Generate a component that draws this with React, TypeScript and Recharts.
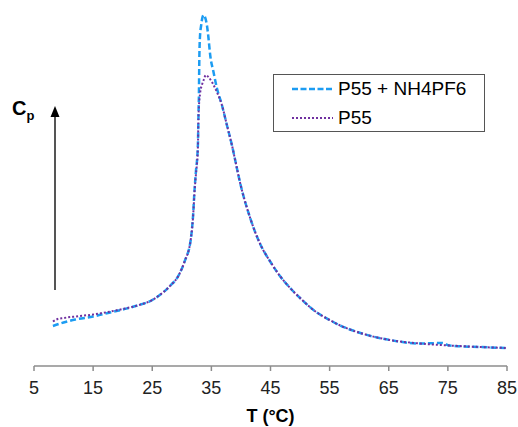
import { Line, LineChart, XAxis, YAxis } from 'recharts'

// P55 + NH4PF6 (blue dashed)
const saltTemps = [
  8.2, 10, 12, 15, 17.5, 20, 22.5, 25, 26.5, 28, 29.5, 30.5, 31.5, 31.9, 32.15, 32.38, 32.72, 32.82, 32.9, 32.95,
  33.06, 33.28, 33.67, 34.24, 34.51, 34.8, 35.36, 35.93, 36.78, 37.62, 38.47, 39.31, 39.75, 41.56, 43.25,
  45, 46.6, 48.8, 50, 52.5, 55, 56.8, 60.2, 65.2, 70.3, 74, 75.3, 80.4, 85,
]
const saltCp = [
  4.0, 4.35, 4.65, 4.95, 5.3, 5.65, 6.05, 6.6, 7.2, 8.0, 9.1, 10.5, 12.6, 15.0, 17.6, 19.4, 22.1, 25.1, 27.4, 30.2,
  32.8, 34.1, 35.1, 34.1, 32.8, 31.1, 29.4, 27.8, 26.1, 24.1, 22.1, 19.8, 18.6, 14.8, 12.2,
  10.4, 9.0, 7.5, 6.8, 5.5, 4.6, 4.05, 3.3, 2.6, 2.25, 2.3, 2.05, 1.9, 1.8,
]

// P55 (purple dotted)
const plainTemps = [
  8.2, 9, 10, 12, 15, 17.5, 20, 22.5, 25, 26.5, 28, 29.5, 30.5, 31.5, 31.9, 32.15, 32.38, 32.72, 32.82, 33.1, 33.4,
  33.7, 34.07, 34.5, 35.09, 35.93, 36.78, 37.62, 38.47, 39.31, 39.75, 41.56, 43.25, 45, 46.6, 48.8, 50,
  52.5, 55, 56.8, 60.2, 65.2, 70.3, 75.3, 80.4, 85,
]
const plainCp = [
  4.45, 4.7, 4.8, 4.95, 5.15, 5.4, 5.7, 6.05, 6.6, 7.2, 8.0, 9.1, 10.5, 12.6, 14.9, 17.4, 19.1, 21.8, 25.0, 27.3, 28.1,
  28.6, 29.1, 28.9, 28.4, 27.4, 26.1, 24.1, 22.1, 19.8, 18.6, 14.8, 12.2, 10.4, 9.0, 7.5, 6.8,
  5.5, 4.6, 4.05, 3.3, 2.6, 2.25, 2.05, 1.9, 1.8,
]

const xTicks = [5, 15, 25, 35, 45, 55, 65, 75, 85]

const saltData = saltTemps.map((t, i) => ({ t, cp: saltCp[i] }))
const plainData = plainTemps.map((t, i) => ({ t, cp: plainCp[i] }))

const font = '"Liberation Sans", Arial, sans-serif'
const blue = '#1C9CF2'
const purple = '#7030A0'

const legendRows = [
  { label: 'P55 + NH4PF6', color: blue, dash: '6 2.5', width: 2.5 },
  { label: 'P55', color: purple, dash: '2 2', width: 2 },
]

function LegendBox() {
  return (
    <div
      style={{
        position: 'absolute',
        left: 273,
        top: 74,
        width: 212,
        height: 58,
        border: '1.5px solid #555',
        background: '#fff',
        fontFamily: font,
        fontSize: 19,
        boxSizing: 'border-box',
      }}
    >
      {legendRows.map((r, i) => (
        <div
          key={r.label}
          style={{ position: 'absolute', left: 17, top: 3 + i * 29, height: 22, display: 'flex', alignItems: 'center' }}
        >
          <svg width={42} height={6} style={{ marginRight: 5 }}>
            <line x1={1} y1={3} x2={42} y2={3} stroke={r.color} strokeWidth={r.width} strokeDasharray={r.dash} />
          </svg>
          <span style={{ color: '#000', lineHeight: '22px' }}>{r.label}</span>
        </div>
      ))}
    </div>
  )
}

export default function App() {
  return (
    <div style={{ position: 'absolute', left: 0, top: 0, width: 518, height: 427, background: '#fff' }}>
      <LineChart width={518} height={427} margin={{ top: 6, right: 11, bottom: 0, left: 34 }}>
        <XAxis
          dataKey="t"
          type="number"
          domain={[5, 85]}
          ticks={xTicks}
          allowDuplicatedCategory={false}
          height={61}
          stroke="#8c8c8c"
          strokeWidth={1.5}
          tickSize={5}
          tickMargin={10}
          tick={{ fill: '#222', fontSize: 18, fontFamily: font }}
          label={{
            value: 'T (°C)',
            position: 'insideBottom',
            offset: 5,
            fill: '#000',
            fontSize: 18,
            fontWeight: 'bold',
            fontFamily: font,
          }}
        />
        <YAxis hide type="number" domain={[0, 36]} />
        <Line
          data={saltData}
          dataKey="cp"
          type="monotone"
          stroke={blue}
          strokeWidth={2.5}
          strokeDasharray="6 3"
          dot={false}
          isAnimationActive={false}
          name="P55 + NH4PF6"
        />
        <Line
          data={plainData}
          dataKey="cp"
          type="monotone"
          stroke={purple}
          strokeWidth={2}
          strokeDasharray="2 2"
          dot={false}
          isAnimationActive={false}
          name="P55"
        />
      </LineChart>
      <LegendBox />
      <svg width={518} height={427} style={{ position: 'absolute', left: 0, top: 0, pointerEvents: 'none' }}>
        <line x1={55} y1={290} x2={55} y2={116} stroke="#555" strokeWidth={2} />
        <polygon points="55,106 50.5,117 59.5,117" fill="#000" />
        <text x={12} y={115} fontFamily={font} fontWeight="bold" fontSize={20} fill="#000">
          C
          <tspan fontSize={13} dy={5}>
            p
          </tspan>
        </text>
      </svg>
    </div>
  )
}
